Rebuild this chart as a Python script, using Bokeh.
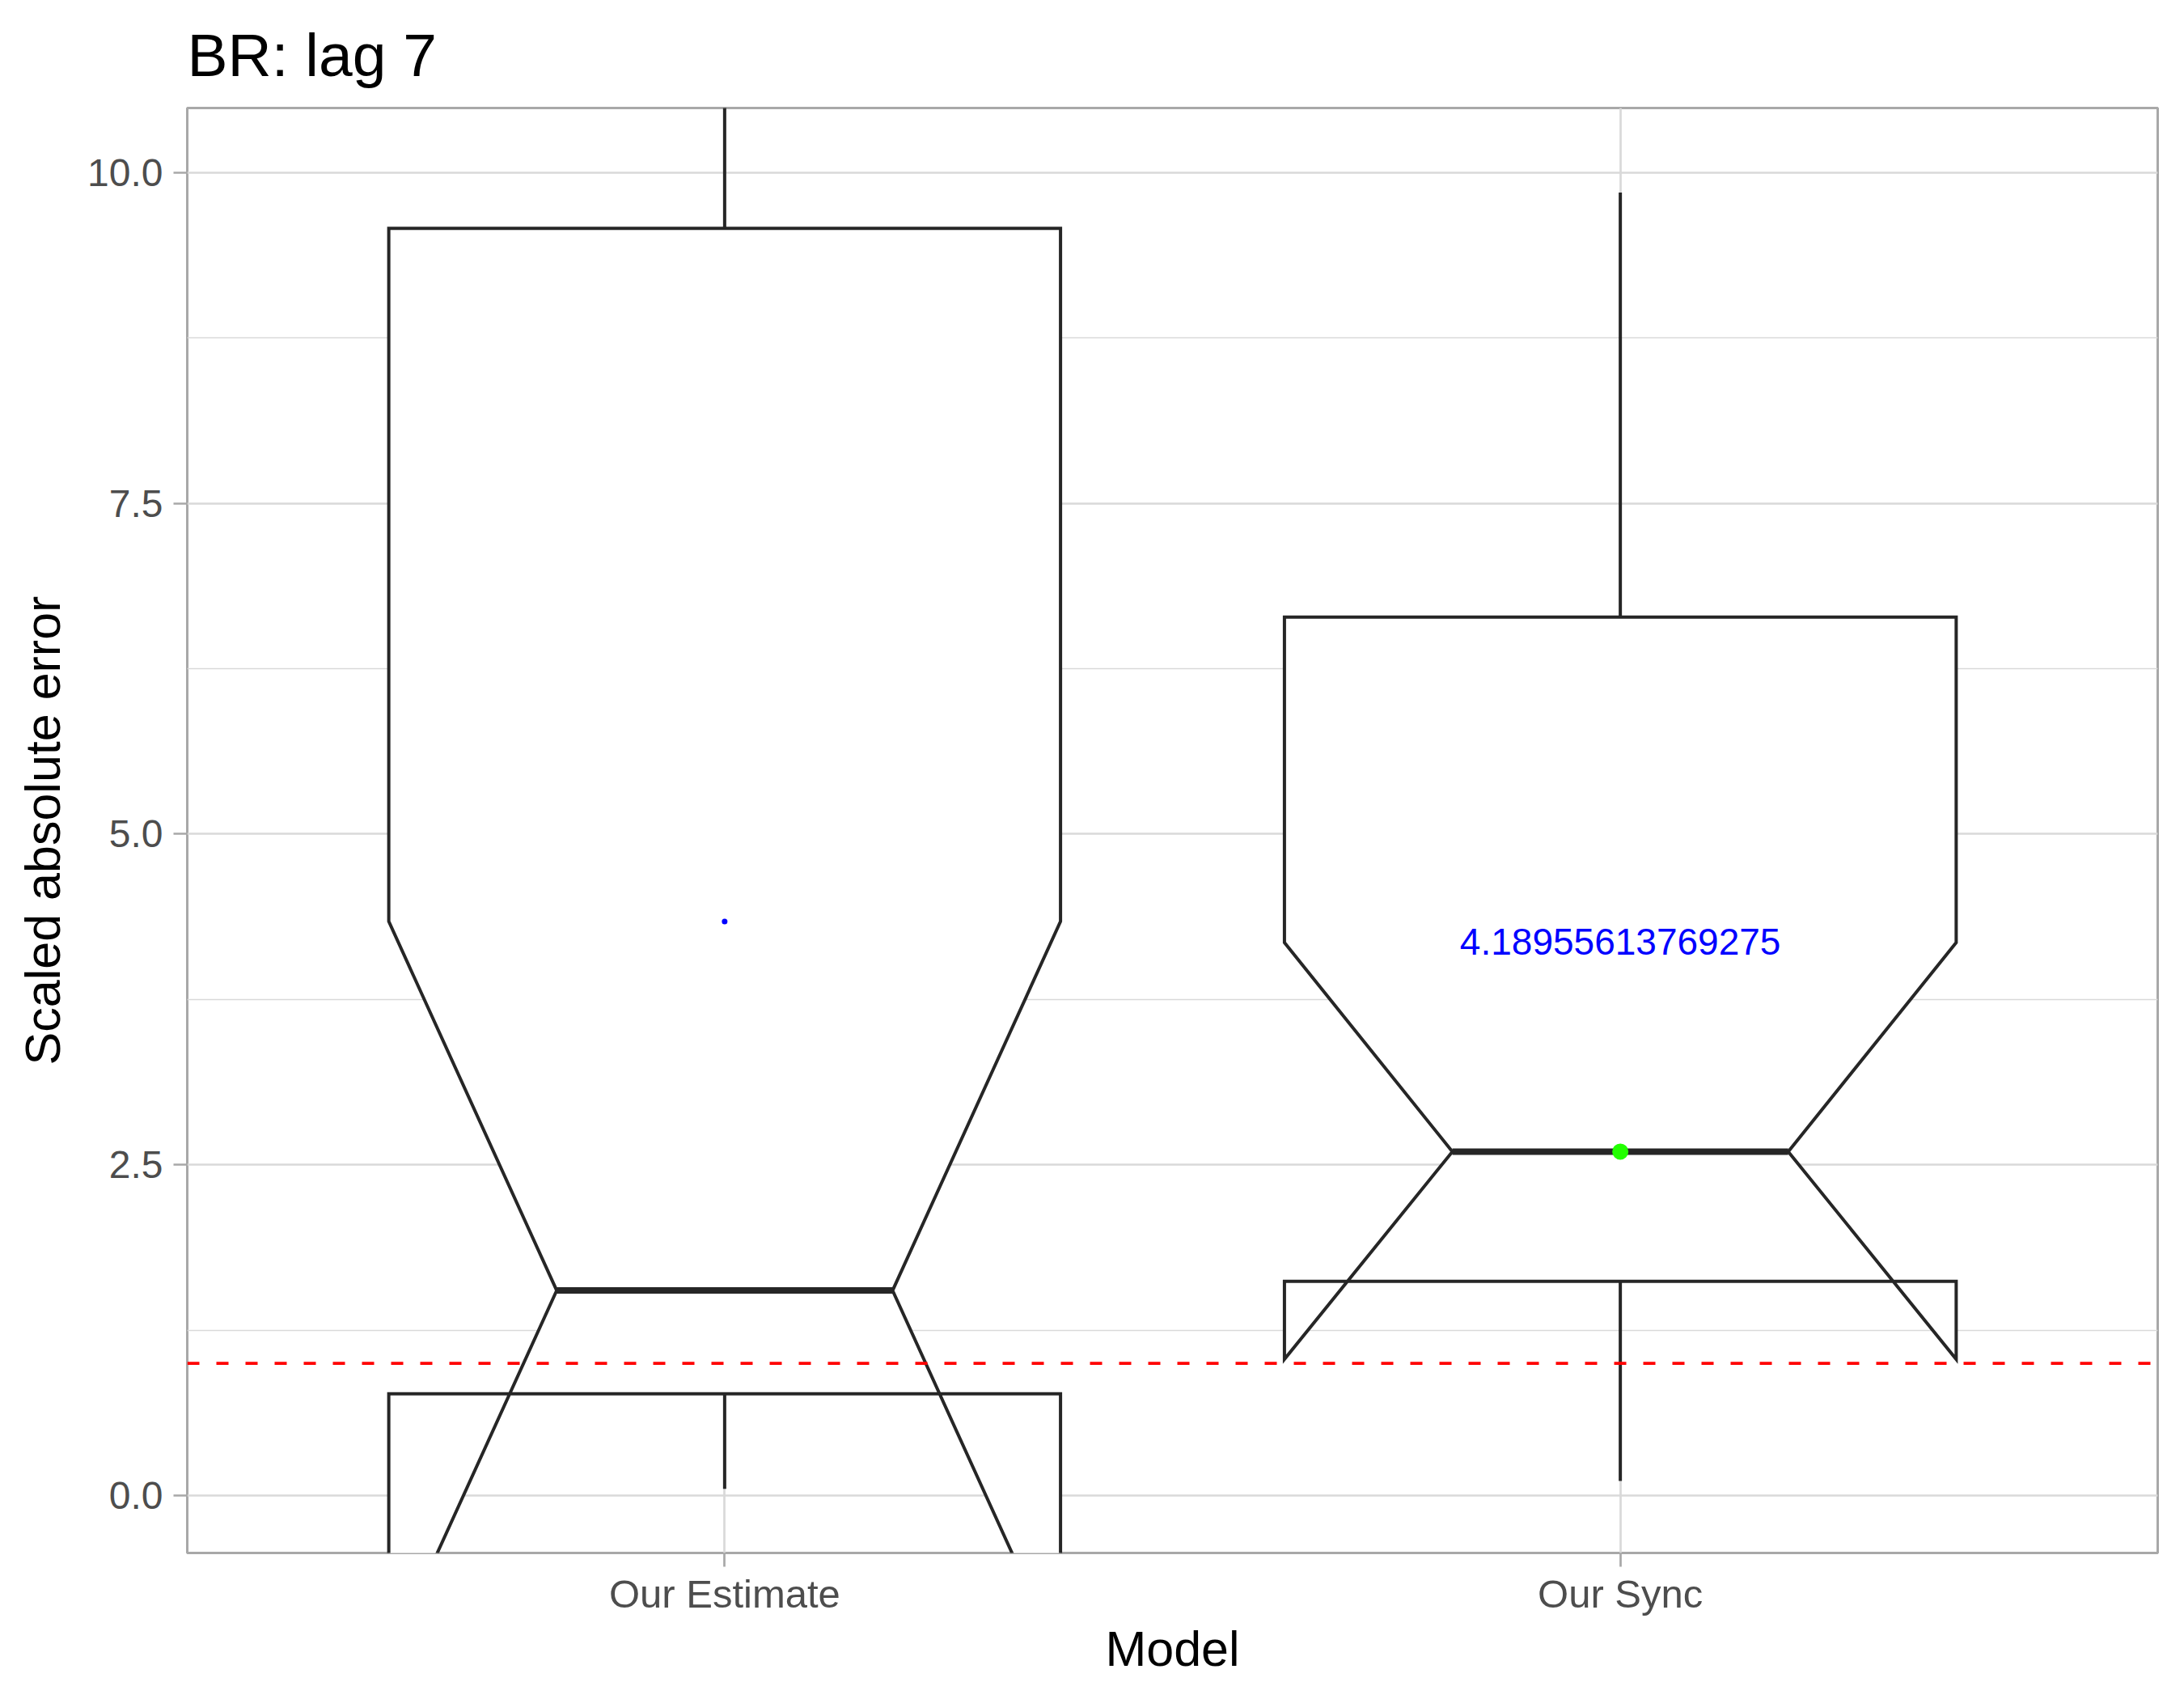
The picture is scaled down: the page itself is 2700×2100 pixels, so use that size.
from bokeh.plotting import figure
from bokeh.models import ColumnDataSource, FixedTicker, Range1d, Span
from bokeh.embed import file_html
from bokeh.resources import INLINE
from bokeh.core.properties import value

# ---- data ----
categories = ["Our Estimate", "Our Sync"]
lower_whisker = [0.05, 0.11]
q1 = [0.77, 1.62]
median = [1.55, 2.60]
q3 = [9.58, 6.64]
upper_whisker = [12.0, 9.85]
notch_lower = [-1.24, 1.03]
notch_upper = [4.34, 4.18]
blue_point_cat = ["Our Estimate"]
blue_point_val = [4.34]
green_point_cat = ["Our Sync"]
green_point_val = [2.60]
label_cat = ["Our Sync"]
label_val = [4.18955613769275]
label_text = ["4.18955613769275"]
reference_level = 1.0
y_ticks = [0.0, 2.5, 5.0, 7.5, 10.0]
y_minor = [1.25, 3.75, 6.25, 8.75]

box_width = 0.75
notch_width = 0.5

pos = {c: i + 1 for i, c in enumerate(categories)}

FONT = "Liberation Sans"
LINE = "#262626"
BORDER = "#A8A8A8"
GRID = "#D9D9D9"

p = figure(width=2700, height=2100, output_backend="svg", toolbar_location=None,
           x_range=Range1d(0.4, 2.6), y_range=Range1d(-0.434, 10.489),
           min_border_left=231, min_border_right=33, min_border_top=133,
           min_border_bottom=181, background_fill_color="white",
           border_fill_color="white")

# title
p.title.text = "BR: lag 7"
p.title.text_font = FONT
p.title.text_font_size = "75px"
p.title.text_font_style = "normal"
p.title.text_color = "black"
p.title.align = "left"
p.title.standoff = 47

# outline (panel border)
p.outline_line_color = BORDER
p.outline_line_width = 3

# axes
for ax in (p.xaxis[0], p.yaxis[0]):
    ax.axis_line_color = None
    ax.major_tick_line_color = BORDER
    ax.major_tick_line_width = 2.7
    ax.major_tick_out = 17
    ax.major_tick_in = 0
    ax.minor_tick_line_color = None
    ax.major_label_text_font = FONT
    ax.major_label_text_color = "#4D4D4D"
    ax.axis_label_text_font = FONT
    ax.axis_label_text_font_style = "normal"
    ax.axis_label_text_color = "black"
    ax.axis_label_text_font_size = "61px"

p.xaxis.ticker = FixedTicker(ticks=[pos[c] for c in categories])
p.xaxis.major_label_overrides = {pos[c]: c for c in categories}
p.xaxis.major_label_text_font_size = "49px"
p.xaxis.major_label_standoff = 6
p.xaxis.axis_label = "Model"
p.xaxis.axis_label_standoff = 4

p.yaxis.ticker = FixedTicker(ticks=y_ticks, minor_ticks=y_minor)
p.yaxis.major_label_overrides = {t: f"{t:.1f}" for t in y_ticks}
p.yaxis.major_label_text_font_size = "48px"
p.yaxis.major_label_standoff = 13
p.yaxis.axis_label = "Scaled absolute error"
p.yaxis.axis_label_standoff = 18

# grids
p.xgrid.ticker = FixedTicker(ticks=[pos[c] for c in categories])
p.xgrid.grid_line_color = GRID
p.xgrid.grid_line_width = 2.7
p.ygrid.ticker = FixedTicker(ticks=y_ticks, minor_ticks=y_minor)
p.ygrid.grid_line_color = GRID
p.ygrid.grid_line_width = 2.7
p.ygrid.minor_grid_line_color = GRID
p.ygrid.minor_grid_line_width = 1.4

# whiskers
xs_c = [pos[c] for c in categories]
p.segment(x0=xs_c, y0=q3, x1=xs_c, y1=upper_whisker, line_color=LINE, line_width=4)
p.segment(x0=xs_c, y0=q1, x1=xs_c, y1=lower_whisker, line_color=LINE, line_width=4)

# notched boxes
hw = box_width / 2
nw = box_width * notch_width / 2
xs_poly, ys_poly = [], []
for i, c in enumerate(categories):
    x = pos[c]
    xs_poly.append([x - hw, x - hw, x - nw, x - hw, x - hw, x + hw, x + hw, x + nw, x + hw, x + hw])
    ys_poly.append([q1[i], notch_lower[i], median[i], notch_upper[i], q3[i],
                    q3[i], notch_upper[i], median[i], notch_lower[i], q1[i]])
p.patches(xs=xs_poly, ys=ys_poly, fill_color="white", line_color=LINE,
          line_width=4, line_join="miter")

# median lines
p.segment(x0=[pos[c] - nw for c in categories], y0=median,
          x1=[pos[c] + nw for c in categories], y1=median,
          line_color=LINE, line_width=8)

# reference line
p.add_layout(Span(location=reference_level, dimension="width", line_color="red",
                  line_width=3.7, line_dash="15 21"))

# points and label
p.scatter(x=[pos[c] for c in blue_point_cat], y=blue_point_val, size=7,
          fill_color="blue", line_color=None)
p.scatter(x=[pos[c] for c in green_point_cat], y=green_point_val, size=20,
          fill_color="#22FF00", line_color=None)
p.text(x=[pos[c] for c in label_cat], y=label_val, text=label_text,
       text_font=value(FONT), text_font_size="46px", text_color="blue",
       text_align="center", text_baseline="middle")

open("out.html", "w").write(file_html(p, INLINE))
